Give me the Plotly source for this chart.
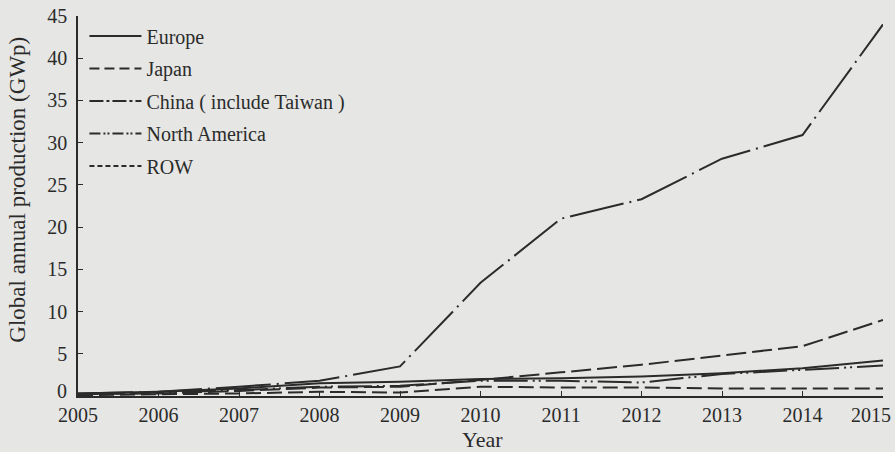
import plotly.graph_objects as go

# Annual PV production by region, GWp
years = [2005, 2006, 2007, 2008, 2009, 2010, 2011, 2012, 2013, 2014, 2015]
europe = [0.3, 0.5, 0.9, 1.5, 1.7, 2.0, 2.1, 2.3, 2.7, 3.3, 4.2]
japan = [0.1, 0.2, 0.3, 0.5, 0.4, 1.1, 1.0, 1.0, 0.9, 0.9, 0.9]
china = [0.3, 0.5, 1.1, 1.8, 3.5, 13.4, 21.0, 23.3, 28.1, 30.9, 44.0]
north_america = [0.2, 0.4, 0.7, 1.1, 1.2, 1.8, 1.8, 1.6, 2.6, 3.1, 3.6]
row = [0.2, 0.3, 0.6, 1.0, 1.1, 1.9, 2.8, 3.7, 4.8, 5.9, 9.0]

series_names = ["Europe", "Japan", "China ( include Taiwan )", "North America", "ROW"]
series_values = [europe, japan, china, north_america, row]
# long dash periods along the data lines
line_dash = ["solid", "15px,6px", "55px,6px,2px,6px", "34px,5px,2px,4px,2px,5px", "20px,6px"]
# compact versions of the same patterns for the legend keys
key_dash = ["solid", "10px,5px", "14px,3px,3px,3px", "11px,3px,2px,2px,2px,3px", "5px,3px"]

y_ticks = [0, 5, 10, 15, 20, 25, 30, 35, 40, 45]
# the "0" and "2015" labels are placed as annotations so they sit clear of the corner and the edge
y_ticktext = [""] + [str(v) for v in y_ticks[1:]]
x_ticktext = [str(y) for y in years[:-1]] + [""]

x_title = "Year"
y_title = "Global annual production (GWp)"

INK = "#2b2b2b"
PAPER = "#e6e6e4"
FONT = "Liberation Serif"

fig = go.Figure()
for name, vals, dash in zip(series_names, series_values, line_dash):
    fig.add_trace(go.Scatter(
        x=years, y=vals, name=name, mode="lines", showlegend=False,
        line=dict(color=INK, width=2, dash=dash),
    ))

# legend keys
for i, (name, dash) in enumerate(zip(series_names, key_dash)):
    fig.add_trace(go.Scatter(
        x=[None], y=[None], name=name, mode="lines",
        legendgroup=f"g{i}", hoverinfo="skip",
        line=dict(color=INK, width=2, dash=dash),
    ))

fig.update_layout(
    width=895, height=452,
    margin=dict(l=78, r=12, t=16, b=56),
    paper_bgcolor=PAPER, plot_bgcolor=PAPER,
    font=dict(family=FONT, size=20, color=INK),
    showlegend=True,
    legend=dict(
        x=0.008, y=0.9986, xanchor="left", yanchor="top",
        bgcolor="rgba(0,0,0,0)", borderwidth=0,
        font=dict(family=FONT, size=20, color=INK),
        tracegroupgap=3.5, itemwidth=52,
    ),
    xaxis=dict(
        range=[2005, 2015], tickmode="array", tickvals=years,
        ticktext=x_ticktext, automargin=False,
        ticks="inside", ticklen=5, tickwidth=1.2, tickcolor=INK,
        showline=True, linecolor=INK, linewidth=1.5,
        showgrid=False, zeroline=False,
        tickfont=dict(family=FONT, size=20),
    ),
    yaxis=dict(
        range=[0, 45], tickmode="array", tickvals=y_ticks,
        ticktext=y_ticktext, automargin=False,
        ticks="inside", ticklen=5, tickwidth=1.2, tickcolor=INK,
        showline=True, linecolor=INK, linewidth=1.5,
        showgrid=False, zeroline=False,
        ticklabelstandoff=5,
        tickfont=dict(family=FONT, size=20),
    ),
    annotations=[
        dict(text=str(y_ticks[0]), xref="paper", yref="y", x=0, y=y_ticks[0],
             xanchor="right", yanchor="middle", xshift=-9, yshift=5, showarrow=False,
             font=dict(family=FONT, size=20, color=INK)),
        dict(text=str(years[-1]), xref="x", yref="paper", x=years[-1], y=0,
             xanchor="right", yanchor="middle", xshift=10, yshift=-19, showarrow=False,
             font=dict(family=FONT, size=20, color=INK)),
        dict(text=x_title, xref="paper", yref="paper", x=0.502, y=-0.1145,
             xanchor="center", yanchor="middle", showarrow=False,
             font=dict(family=FONT, size=22, color=INK)),
        dict(text=y_title, xref="paper", yref="paper", x=-0.0745, y=0.543, textangle=-90,
             xanchor="center", yanchor="middle", showarrow=False,
             font=dict(family=FONT, size=23, color=INK)),
    ],
)

fig.write_html("out.html")
